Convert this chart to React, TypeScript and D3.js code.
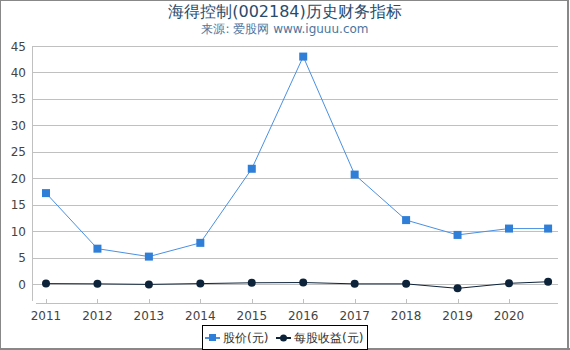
import React, { useRef, useEffect } from 'react';
import * as d3 from 'd3';

// x positions are years; last point is the latest report date
const years = [2011, 2012, 2013, 2014, 2015, 2016, 2017, 2018, 2019, 2020, 2020.76];
const price = [17.2, 6.7, 5.2, 7.8, 21.8, 43.0, 20.7, 12.1, 9.3, 10.5, 10.5];
const eps = [0.1, 0.05, -0.05, 0.1, 0.25, 0.3, 0.05, 0.05, -0.8, 0.15, 0.45];
const yTicks = [0, 5, 10, 15, 20, 25, 30, 35, 40, 45];
const xTicks = [2011, 2012, 2013, 2014, 2015, 2016, 2017, 2018, 2019, 2020];

const W = 570, H = 350;
const font = '"DejaVu Sans", sans-serif';

const App = () => {
  const ref = useRef<SVGSVGElement>(null);

  useEffect(() => {
    const svg = d3.select(ref.current);
    svg.selectAll('*').remove();

    const x = d3.scaleLinear().domain([2011, 2020]).range([46, 509]);
    const y = d3.scaleLinear().domain([-3, 45]).range([300, 46]);
    const left = 36, right = 558;

    // frame
    svg.append('rect').attr('x', 0.5).attr('y', 0.5).attr('width', 567).attr('height', 348)
      .attr('fill', '#fff').attr('stroke', '#888').attr('stroke-width', 1);
    svg.append('line').attr('x1', 568).attr('x2', 568).attr('y1', 0).attr('y2', 350).attr('stroke', '#888').attr('stroke-width', 2);
    svg.append('line').attr('x1', 0).attr('x2', 570).attr('y1', 349).attr('y2', 349).attr('stroke', '#888').attr('stroke-width', 2);

    // title
    svg.append('text').attr('x', W / 2).attr('y', 17).attr('text-anchor', 'middle')
      .style('font-family', font).style('font-size', '16px').attr('fill', '#274b6d')
      .text('海得控制(002184)历史财务指标');
    svg.append('text').attr('x', W / 2).attr('y', 33).attr('text-anchor', 'middle')
      .style('font-family', font).style('font-size', '12px').attr('fill', '#4d759e')
      .text('来源: 爱股网 www.iguuu.com');

    // grid
    svg.append('g').selectAll('line').data(yTicks).enter().append('line')
      .attr('x1', left).attr('x2', right)
      .attr('y1', d => Math.round(y(d)) + 0.5).attr('y2', d => Math.round(y(d)) + 0.5)
      .attr('stroke', '#c0c0c0').attr('stroke-width', 1);

    // y axis
    svg.append('line').attr('x1', 32.5).attr('x2', 32.5).attr('y1', 46).attr('y2', 301)
      .attr('stroke', '#c0c0c0');
    svg.append('g').selectAll('line').data(yTicks).enter().append('line')
      .attr('x1', 32).attr('x2', left)
      .attr('y1', d => Math.round(y(d)) + 0.5).attr('y2', d => Math.round(y(d)) + 0.5)
      .attr('stroke', '#c0c0c0');
    svg.append('g').selectAll('text').data(yTicks).enter().append('text')
      .attr('x', 26).attr('y', d => y(d) + 4.5).attr('text-anchor', 'end')
      .style('font-family', font).style('font-size', '12px').attr('fill', '#444')
      .text(d => d);

    // x axis
    svg.append('line').attr('x1', left).attr('x2', right).attr('y1', 303.5).attr('y2', 303.5)
      .attr('stroke', '#c0c0c0');
    svg.append('g').selectAll('line').data(xTicks).enter().append('line')
      .attr('x1', d => Math.round(x(d)) + 0.5).attr('x2', d => Math.round(x(d)) + 0.5)
      .attr('y1', 299).attr('y2', 303).attr('stroke', '#c0c0c0');
    svg.append('g').selectAll('text').data(xTicks).enter().append('text')
      .attr('x', d => x(d)).attr('y', 320).attr('text-anchor', 'middle')
      .style('font-family', font).style('font-size', '12px').attr('fill', '#444')
      .text(d => d);

    const line = d3.line<number>().x((d, i) => x(years[i])).y(d => y(d));

    // price series
    svg.append('path').datum(price).attr('d', line).attr('fill', 'none')
      .attr('stroke', '#4a90e2').attr('stroke-width', 1);
    svg.append('g').selectAll('rect').data(price).enter().append('rect')
      .attr('x', (d, i) => x(years[i]) - 4).attr('y', d => y(d) - 4)
      .attr('width', 8).attr('height', 8).attr('fill', '#2f7ed8');

    // eps series
    svg.append('path').datum(eps).attr('d', line).attr('fill', 'none')
      .attr('stroke', '#0d233a').attr('stroke-width', 1);
    svg.append('g').selectAll('circle').data(eps).enter().append('circle')
      .attr('cx', (d, i) => x(years[i])).attr('cy', d => y(d)).attr('r', 4)
      .attr('fill', '#0d233a');

    // legend
    const lg = svg.append('g');
    lg.append('rect').attr('x', 202.5).attr('y', 325.5).attr('width', 165).attr('height', 24)
      .attr('fill', '#fff').attr('stroke', '#000').attr('stroke-width', 1);
    lg.append('line').attr('x1', 205).attr('x2', 220).attr('y1', 338).attr('y2', 338)
      .attr('stroke', '#4a90e2').attr('stroke-width', 2);
    lg.append('rect').attr('x', 209).attr('y', 334).attr('width', 7).attr('height', 7).attr('fill', '#2f7ed8');
    lg.append('text').attr('x', 223).attr('y', 342).style('font-family', font).style('font-size', '12px')
      .attr('fill', '#333').text('股价(元)');
    lg.append('line').attr('x1', 276).attr('x2', 291).attr('y1', 338).attr('y2', 338)
      .attr('stroke', '#0d233a').attr('stroke-width', 2);
    lg.append('circle').attr('cx', 283.5).attr('cy', 338).attr('r', 3.5).attr('fill', '#0d233a');
    lg.append('text').attr('x', 294).attr('y', 342).style('font-family', font).style('font-size', '12px')
      .attr('fill', '#333').text('每股收益(元)');
  }, []);

  return (
    <svg ref={ref} width={W} height={H} style={{ position: 'absolute', left: 0, top: 0 }} />
  );
};

export default App;
